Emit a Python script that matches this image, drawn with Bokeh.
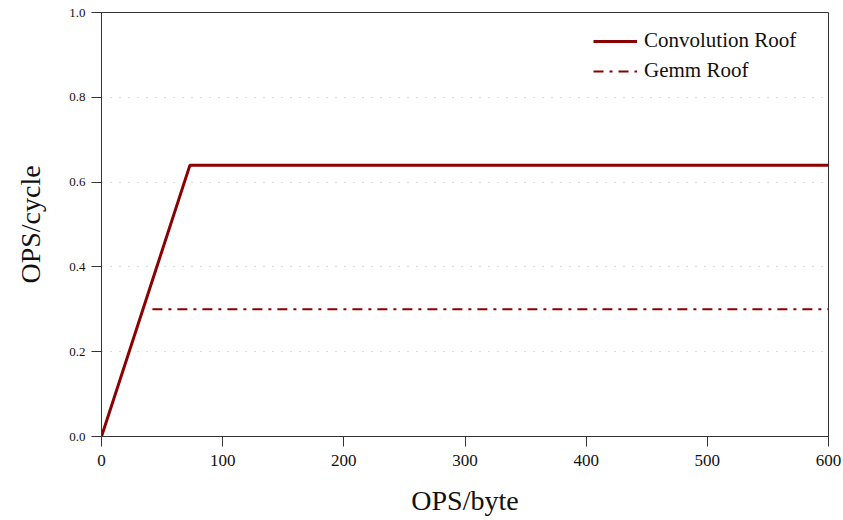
from bokeh.plotting import figure
from bokeh.models import Range1d, Legend, LegendItem, FixedTicker, CustomJSTickFormatter
from bokeh.embed import file_html
from bokeh.resources import INLINE

# Roofline data (OPS/byte vs OPS/cycle)
conv_x = [0, 73, 600]
conv_y = [0.0, 0.64, 0.64]
gemm_x = [42, 600]
gemm_y = [0.30, 0.30]

x_ticks = [0, 100, 200, 300, 400, 500, 600]
y_ticks = [0.0, 0.2, 0.4, 0.6, 0.8, 1.0]

FONT = "Liberation Serif"
RED = "#8b0000"

p = figure(width=843, height=520, output_backend="svg", toolbar_location=None,
           x_range=Range1d(0, 600), y_range=Range1d(0, 1.0),
           min_border_left=101, min_border_right=15,
           min_border_top=12, min_border_bottom=84)

p.background_fill_color = "white"
p.border_fill_color = "white"
p.outline_line_color = "#333333"
p.outline_line_width = 1

r1 = p.line(conv_x, conv_y, line_color=RED, line_width=3)
r2 = p.line(gemm_x, gemm_y, line_color=RED, line_width=2, line_dash="10 6 3 6")

p.xgrid.visible = False
p.ygrid.grid_line_color = "#bbbbbb"
p.ygrid.grid_line_dash = "1 8"
p.ygrid.grid_line_width = 1

for ax in (p.xaxis[0], p.yaxis[0]):
    ax.major_tick_out = 10
    ax.major_tick_in = 0
    ax.minor_tick_line_color = None
    ax.axis_line_color = "#333333"
    ax.major_tick_line_color = "#333333"
    ax.major_label_text_font = FONT
    ax.major_label_text_color = "#111111"
    ax.axis_label_text_font = FONT
    ax.axis_label_text_font_style = "normal"
    ax.axis_label_text_color = "#111111"
    ax.axis_label_text_font_size = "28px"

p.xaxis.ticker = FixedTicker(ticks=x_ticks)
p.yaxis.ticker = FixedTicker(ticks=y_ticks)
p.xaxis.major_label_text_font_size = "17px"
p.yaxis.major_label_text_font_size = "13px"
p.yaxis.formatter = CustomJSTickFormatter(code="return tick.toFixed(1);")
p.xaxis.axis_label = "OPS/byte"
p.yaxis.axis_label = "OPS/cycle"
p.xaxis.major_label_standoff = 8
p.yaxis.major_label_standoff = 6
p.xaxis.axis_label_standoff = 16
p.yaxis.axis_label_standoff = 20

legend = Legend(items=[LegendItem(label="Convolution Roof", renderers=[r1]),
                       LegendItem(label="Gemm Roof", renderers=[r2])],
                location=(492, 353))
legend.border_line_color = None
legend.background_fill_alpha = 0
legend.label_text_font = FONT
legend.label_text_font_size = "21px"
legend.label_text_color = "#111111"
legend.glyph_width = 44
legend.glyph_height = 24
legend.label_height = 24
legend.label_standoff = 7
legend.spacing = 5
legend.margin = 0
legend.padding = 8
p.add_layout(legend)

open("out.html", "w").write(file_html(p, INLINE))
